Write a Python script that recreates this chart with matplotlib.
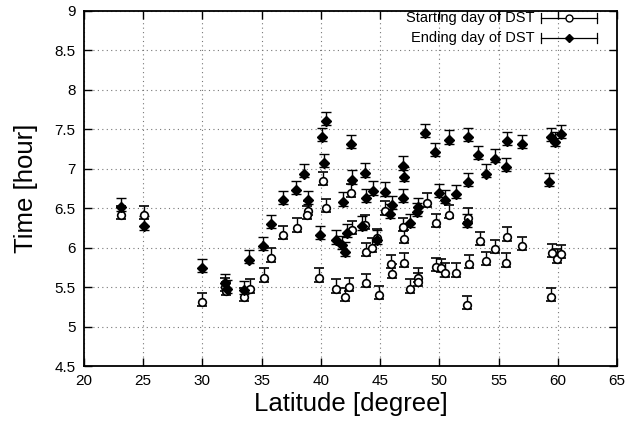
import matplotlib
matplotlib.use("Agg")
import matplotlib.pyplot as plt
from matplotlib.lines import Line2D

plt.rcParams['font.family'] = ['Liberation Sans', 'DejaVu Sans']

# Starting day of DST (open circles)
start_lat = [23.1, 25.1, 30.0, 31.9, 32.0, 33.5, 34.0, 35.2, 35.8, 36.8,
             38.0, 38.9, 38.8, 39.8, 40.2, 40.4, 41.3, 42.0, 42.4, 42.6,
             42.5, 43.7, 43.8, 43.8, 44.3, 44.7, 44.9, 45.4, 45.9, 46.0,
             46.9, 47.0, 47.0, 47.5, 48.2, 48.2, 49.0, 49.7, 49.7, 50.1,
             50.5, 50.8, 51.4, 52.4, 52.5, 52.3, 53.4, 53.9, 54.7, 55.7,
             55.6, 57.0, 59.5, 59.9, 60.3, 59.4]
start_time = [6.41, 6.41, 5.31, 5.50, 5.45, 5.37, 5.48, 5.62, 5.87, 6.16,
              6.25, 6.47, 6.41, 5.62, 6.84, 6.50, 5.48, 5.37, 5.50, 6.22,
              6.69, 6.29, 5.94, 5.55, 6.00, 6.12, 5.40, 6.47, 5.79, 5.67,
              6.26, 6.11, 5.81, 5.48, 5.62, 5.56, 6.57, 6.31, 5.75, 5.74,
              5.68, 6.42, 5.68, 6.38, 5.79, 5.27, 6.08, 5.83, 5.98, 6.14,
              5.81, 6.02, 5.93, 5.86, 5.92, 5.37]

# Ending day of DST (filled diamonds)
end_lat = [23.1, 25.1, 30.0, 31.9, 32.1, 33.5, 33.9, 35.1, 35.8, 36.8,
           37.9, 38.6, 38.9, 39.9, 40.1, 40.4, 40.3, 41.3, 41.8, 41.9,
           42.0, 42.2, 42.5, 42.6, 43.5, 43.7, 43.8, 44.4, 44.7, 45.4,
           45.8, 46.0, 46.9, 47.0, 46.9, 47.5, 48.1, 48.2, 48.8, 49.6,
           50.0, 50.5, 50.8, 51.4, 52.3, 52.4, 52.4, 53.3, 53.9, 54.7,
           55.7, 55.6, 57.0, 59.3, 59.4, 59.8, 60.3]
end_time = [6.51, 6.28, 5.74, 5.55, 5.47, 5.46, 5.85, 6.02, 6.30, 6.60,
            6.73, 6.94, 6.60, 6.16, 7.40, 7.60, 7.07, 6.10, 6.03, 6.58,
            5.95, 6.18, 7.31, 6.86, 6.28, 6.95, 6.63, 6.72, 6.10, 6.71,
            6.43, 6.54, 7.04, 6.90, 6.63, 6.31, 6.45, 6.51, 7.45, 7.21,
            6.69, 6.61, 7.37, 6.68, 6.31, 7.40, 6.83, 7.17, 6.94, 7.13,
            7.35, 7.02, 7.31, 6.83, 7.40, 7.34, 7.44]

err_low = 0.05
err_high = 0.12

x_ticks = [20, 25, 30, 35, 40, 45, 50, 55, 60, 65]
y_ticks = [4.5, 5, 5.5, 6, 6.5, 7, 7.5, 8, 8.5, 9]
y_tick_labels = ['4.5', '5', '5.5', '6', '6.5', '7', '7.5', '8', '8.5', '9']

fig = plt.figure(figsize=(6.29, 4.32), dpi=100)
ax = fig.add_axes([84/629, 1-366/432, 533/629, 355/432])

s_err = [[err_low]*len(start_time), [err_high]*len(start_time)]
e_err = [[err_low]*len(end_time), [err_high]*len(end_time)]

ax.errorbar(start_lat, start_time, yerr=s_err, fmt='o', ms=5.5, mfc='white',
            mec='black', mew=1.2, ecolor='black', elinewidth=1.0,
            capsize=3.5, capthick=1.0, zorder=3)
ax.errorbar(end_lat, end_time, yerr=e_err, fmt='D', ms=5, mfc='black',
            mec='black', ecolor='black', elinewidth=1.0,
            capsize=3.5, capthick=1.0, zorder=3)

ax.set_xlim(20, 65)
ax.set_ylim(4.5, 9)
ax.set_xticks(x_ticks)
ax.set_yticks(y_ticks)
ax.set_yticklabels(y_tick_labels)
ax.tick_params(direction='in', length=6, width=1, top=True, right=True,
               labelsize=11, pad=6)
ax.grid(True, linestyle=(0, (1, 3)), color='#777777', linewidth=0.8)
for sp in ax.spines.values():
    sp.set_linewidth(1.3)

ax.set_xlabel('Latitude [degree]', fontsize=18.5, labelpad=3)
ax.set_ylabel('Time [hour]', fontsize=18.5, labelpad=12)

# gnuplot-like key
tr = ax.transAxes
rows = [('Starting day of DST', 'o', 'white', 0.980),
        ('Ending day of DST', 'D', 'black', 0.924)]
for label, mk, fc, yy in rows:
    ax.text(0.846, yy, label, transform=tr, ha='right', va='center',
            fontsize=10.5)
    ax.add_line(Line2D([0.857, 0.962], [yy, yy], transform=tr,
                       color='black', lw=0.9))
    for xe in (0.857, 0.962):
        ax.add_line(Line2D([xe, xe], [yy-0.013, yy+0.013], transform=tr,
                           color='black', lw=0.9))
    ax.add_line(Line2D([0.91], [yy], transform=tr, marker=mk,
                       ms=5 if mk == 'o' else 4.5, mfc=fc, mec='black',
                       color='black', lw=0))

fig.savefig('out.png', dpi=100)
